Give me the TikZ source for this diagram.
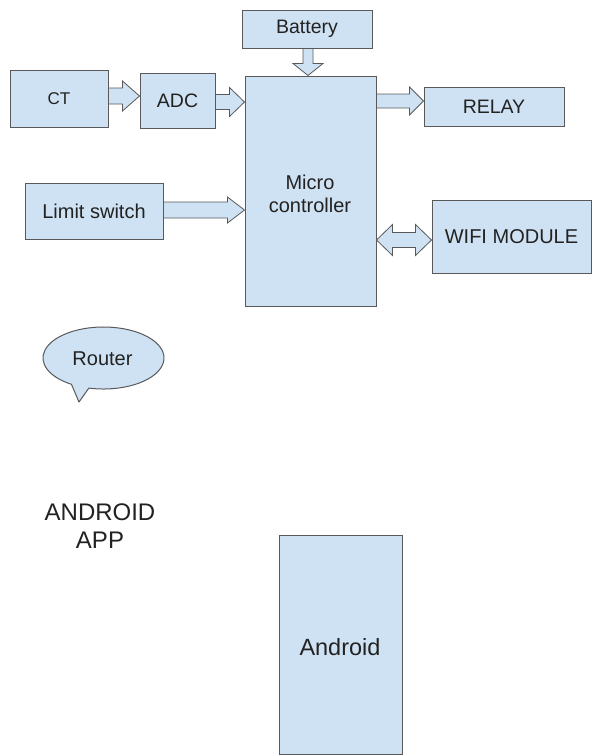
\documentclass[tikz,border=0pt]{standalone}
\usepackage{fontspec}
\setmainfont{Liberation Sans}
\usetikzlibrary{calc}
\definecolor{boxfill}{HTML}{CFE2F3}
\definecolor{boxline}{HTML}{595959}
\definecolor{txt}{HTML}{222222}
\tikzset{
  box/.style={draw=boxline, fill=boxfill, line width=1pt, inner sep=0pt, text=txt, align=center},
  barrow/.style={draw=boxline, fill=boxfill, line width=0.8pt, line join=miter},
  lbl/.style={text=txt, align=center, inner sep=0pt}
}
% right-pointing block arrow: from, to, y, shaft half, head half, head length
\newcommand\rblock[6]{%
  \path[barrow] let \p1=(#1), \p2=(#2) in
    (\x1,-#3pt+#4pt) -- (\x2-#6pt,-#3pt+#4pt) -- (\x2-#6pt,-#3pt+#5pt) -- (\x2,-#3pt)
    -- (\x2-#6pt,-#3pt-#5pt) -- (\x2-#6pt,-#3pt-#4pt) -- (\x1,-#3pt-#4pt) -- cycle;}
% double block arrow
\newcommand\dblock[6]{%
  \path[barrow] let \p1=(#1), \p2=(#2) in
    (\x1,-#3pt) -- (\x1+#6pt,-#3pt+#5pt) -- (\x1+#6pt,-#3pt+#4pt) -- (\x2-#6pt,-#3pt+#4pt)
    -- (\x2-#6pt,-#3pt+#5pt) -- (\x2,-#3pt) -- (\x2-#6pt,-#3pt-#5pt) -- (\x2-#6pt,-#3pt-#4pt)
    -- (\x1+#6pt,-#3pt-#4pt) -- (\x1+#6pt,-#3pt-#5pt) -- cycle;}
% downward block arrow: from, to, x, shaft half, head half, head length
\newcommand\dnblock[6]{%
  \path[barrow] let \p1=(#1), \p2=(#2) in
    (#3pt-#4pt,\y1) -- (#3pt-#4pt,\y2+#6pt) -- (#3pt-#5pt,\y2+#6pt) -- (#3pt,\y2)
    -- (#3pt+#5pt,\y2+#6pt) -- (#3pt+#4pt,\y2+#6pt) -- (#3pt+#4pt,\y1) -- cycle;}
\begin{document}
\begin{tikzpicture}[x=1pt,y=1pt]
\fill[white] (0,0) rectangle (593,-756);
\useasboundingbox (0,0) rectangle (593,-756);

\node[box, minimum width=130pt, minimum height=38pt, font=\fontsize{19.5}{23}\selectfont] (battery) at (307,-29) {Battery};
\node[box, minimum width=131pt, minimum height=230pt, font=\fontsize{20}{23}\selectfont] (mc) at (310.5,-191) {};
\node[lbl, font=\fontsize{20}{23}\selectfont] (mctext) at (310,-193.5) {Micro\\controller};
\node[box, minimum width=98pt, minimum height=57pt, font=\fontsize{17}{20}\selectfont] (ct) at (59,-98.5) {CT};
\node[box, minimum width=75pt, minimum height=55pt, font=\fontsize{19.5}{23}\selectfont] (adc) at (177.5,-100.5) {ADC};
\node[box, minimum width=140pt, minimum height=39pt, font=\fontsize{19.5}{23}\selectfont] (relay) at (494,-106.5) {RELAY};
\node[box, minimum width=159pt, minimum height=73pt, font=\fontsize{20}{23}\selectfont] (wifi) at (511.5,-236.5) {WIFI MODULE};
\node[box, minimum width=138pt, minimum height=56pt, font=\fontsize{20}{23}\selectfont] (limit) at (94,-211) {Limit switch};
\node[box, minimum width=123pt, minimum height=219pt] (android) at (340.5,-644.5) {};
\node[lbl, font=\fontsize{23.5}{27}\selectfont] (androidtext) at (340,-647) {Android};

% router callout
\coordinate (rc) at (103.5,-358);
\coordinate (rtip) at (79,-402);
\path[draw=boxline, fill=boxfill, line width=1pt, line join=round]
  ($(rc)+(256:60.5pt and 31pt)$) arc[start angle=256, end angle=598, x radius=60.5pt, y radius=31pt]
  -- (rtip) -- cycle;
\node[lbl, font=\fontsize{20}{23}\selectfont] (router) at (102.5,-359) {Router};

\node[lbl, font=\fontsize{24}{28}\selectfont] (app) at (100,-526) {ANDROID\\APP};

% connectors
\rblock{ct.east}{adc.west}{96}{8}{15}{17}
\rblock{adc.east}{mc.west}{102}{7.5}{14.5}{15}
\rblock{limit.east}{mc.west}{210}{8}{13}{17}
\rblock{mc.east}{relay.west}{101}{7}{14}{14}
\dblock{mc.east}{wifi.west}{240}{7.5}{15.5}{16}
\dnblock{battery.south}{mc.north}{308}{5}{15}{12}
\end{tikzpicture}
\end{document}
